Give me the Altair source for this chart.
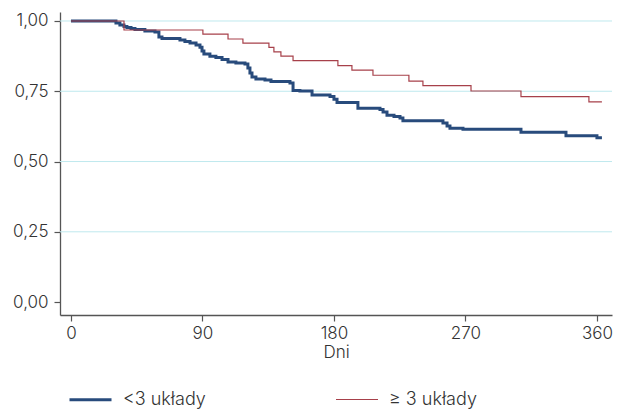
import altair as alt
import pandas as pd

groups = ["<3 układy", "≥ 3 układy"]

blue_days = [0, 28.1, 30.8, 33.5, 36.3, 38.3, 41.1, 43.8, 50.6, 57.5, 60.2, 62.3, 74.6, 78.0, 81.5,
             85.6, 88.3, 89.7, 91.0, 95.1, 99.2, 103.4, 107.5, 112.9, 119.1, 121.1, 122.5, 123.9,
             126.6, 132.8, 136.9, 149.9, 152.0, 156.7, 165.0, 177.3, 180.0, 182.1, 196.4, 211.5,
             213.6, 216.3, 221.1, 225.2, 227.2, 254.6, 257.4, 259.4, 268.3, 308.0, 338.8, 360.0, 363.4]
blue_surv = [1.000, 1.000, 0.993, 0.986, 0.980, 0.977, 0.973, 0.970, 0.964, 0.961, 0.943, 0.938, 0.932,
             0.927, 0.922, 0.915, 0.907, 0.893, 0.883, 0.875, 0.870, 0.863, 0.854, 0.851, 0.847, 0.833,
             0.815, 0.801, 0.794, 0.790, 0.785, 0.779, 0.753, 0.751, 0.737, 0.731, 0.722, 0.710, 0.690,
             0.685, 0.676, 0.665, 0.660, 0.655, 0.645, 0.637, 0.626, 0.618, 0.615, 0.604, 0.592, 0.585, 0.585]

red_days = [0, 36.3, 90.3, 107.5, 117.7, 135.5, 138.9, 143.7, 152.0, 182.7, 192.3, 206.7, 231.3,
            240.9, 273.8, 308.0, 354.5, 363.4]
red_surv = [1.000, 0.968, 0.953, 0.936, 0.921, 0.906, 0.890, 0.875, 0.859, 0.841, 0.825, 0.807,
            0.786, 0.770, 0.751, 0.731, 0.712, 0.712]

x_ticks = [0, 90, 180, 270, 360]
y_ticks = [0, 0.25, 0.5, 0.75, 1.0]
grid_vals = [0.25, 0.5, 0.75, 1.0]

df = pd.concat([
    pd.DataFrame({"group": groups[0], "day": blue_days, "surv": blue_surv, "order": range(len(blue_days))}),
    pd.DataFrame({"group": groups[1], "day": red_days, "surv": red_surv, "order": range(len(red_days))}),
])
grid_df = pd.DataFrame({"v": grid_vals})

FONT = "Inter"
xscale = alt.Scale(domain=[-7.5, 370.3], nice=False, zero=False)
yscale = alt.Scale(domain=[-0.046, 1.032], nice=False, zero=False)
yaxis = alt.Axis(values=y_ticks, title=None, grid=False,
                 labelExpr="replace(format(datum.value, '.2f'), '.', ',')")

grid = alt.Chart(grid_df).mark_rule(color="#bfe9ee", strokeWidth=1).encode(
    y=alt.Y("v:Q", scale=yscale, axis=yaxis)
)

lines = alt.Chart(df).mark_line(interpolate="step-after").encode(
    x=alt.X("day:Q", scale=xscale,
            axis=alt.Axis(values=x_ticks, title="Dni", grid=False, labelFlush=False)),
    y=alt.Y("surv:Q", scale=yscale, axis=yaxis),
    color=alt.Color("group:N", scale=alt.Scale(domain=groups, range=["#284b7c", "#a7404a"]),
                    title=None),
    strokeWidth=alt.StrokeWidth("group:N", scale=alt.Scale(domain=groups, range=[3, 1.2]),
                                title=None),
    order="order:Q",
)

chart = alt.layer(grid, lines).properties(
    width=552, height=303,
    autosize=alt.AutoSizeParams(type="none"),
    padding={"left": 60, "top": 12, "right": 13, "bottom": 95},
).configure_view(stroke=None).configure_axis(
    labelFont=FONT, titleFont=FONT, labelFontSize=17, titleFontSize=17,
    labelColor="#333333", titleColor="#333333", labelFontWeight=300, titleFontWeight=300,
    domainColor="#555555", tickColor="#555555", tickSize=6, domainWidth=1.3, tickWidth=1.2,
    labelPadding=4, titlePadding=3,
).configure_axisY(labelPadding=6).configure_legend(
    orient="none", legendX=8, legendY=365, direction="horizontal",
    labelFont=FONT, labelFontSize=18, labelColor="#333333", labelFontWeight=300,
    symbolType="stroke", symbolSize=1764, labelOffset=10, columnPadding=127,
)

chart.save("out.html", embed_options={"renderer": "svg", "actions": False})
